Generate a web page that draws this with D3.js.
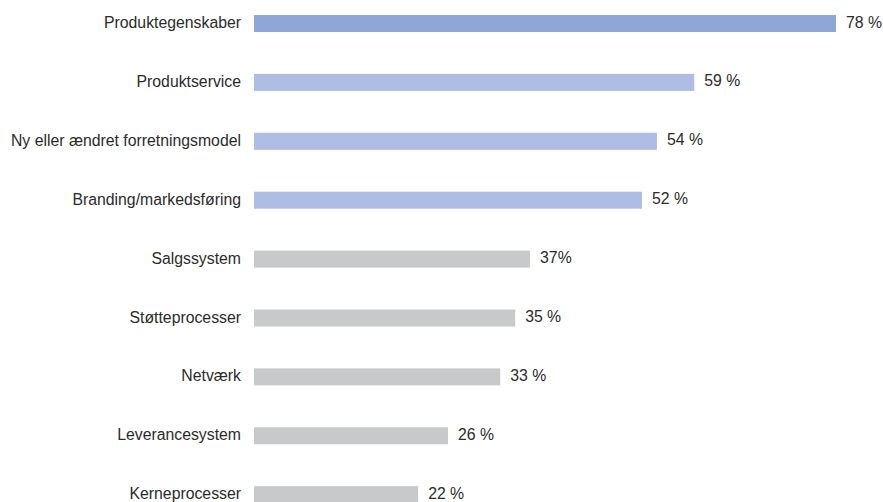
<!DOCTYPE html>
<html>
<head>
<meta charset="utf-8">
<script src="https://cdn.jsdelivr.net/npm/d3@7"></script>
<style>
  html, body { margin: 0; padding: 0; background: #fff; }
  svg { display: block; }
  text { font-family: "Liberation Sans", Arial, sans-serif; font-size: 15.8px; fill: #2b2b2b; }
</style>
</head>
<body>
<svg id="chart" width="883" height="502"></svg>
<script>
const categories = [
  "Produktegenskaber",
  "Produktservice",
  "Ny eller ændret forretningsmodel",
  "Branding/markedsføring",
  "Salgssystem",
  "Støtteprocesser",
  "Netværk",
  "Leverancesystem",
  "Kerneprocesser"
];
const values = [78, 59, 54, 52, 37, 35, 33, 26, 22];
const valueLabels = ["78 %", "59 %", "54 %", "52 %", "37%", "35 %", "33 %", "26 %", "22 %"];
const groups = ["top", "high", "high", "high", "low", "low", "low", "low", "low"];

const colour = d3.scaleOrdinal()
  .domain(["top", "high", "low"])
  .range(["#8fa7d7", "#aebde3", "#c8c9cb"]);

const svg = d3.select("#chart");
const left = 254;
const x = d3.scaleLinear().domain([0, 78]).range([left, 836]);
const y = d3.scaleBand()
  .domain(categories)
  .range([15, 503.2])
  .paddingInner(0.711)
  .paddingOuter(0);

const rows = svg.selectAll("g.row")
  .data(categories.map((c, i) => ({ c, v: values[i], label: valueLabels[i], g: groups[i] })))
  .join("g")
  .attr("class", "row");

rows.append("rect")
  .attr("x", x(0))
  .attr("y", d => y(d.c))
  .attr("width", d => x(d.v) - x(0))
  .attr("height", y.bandwidth())
  .attr("fill", d => colour(d.g));

rows.append("text")
  .attr("x", x(0) - 13)
  .attr("y", d => y(d.c) + y.bandwidth() / 2 - 1)
  .attr("dy", "0.35em")
  .attr("text-anchor", "end")
  .text(d => d.c);

rows.append("text")
  .attr("x", d => x(d.v) + 10)
  .attr("y", d => y(d.c) + y.bandwidth() / 2 - 1.5)
  .attr("dy", "0.35em")
  .text(d => d.label);
</script>
</body>
</html>
